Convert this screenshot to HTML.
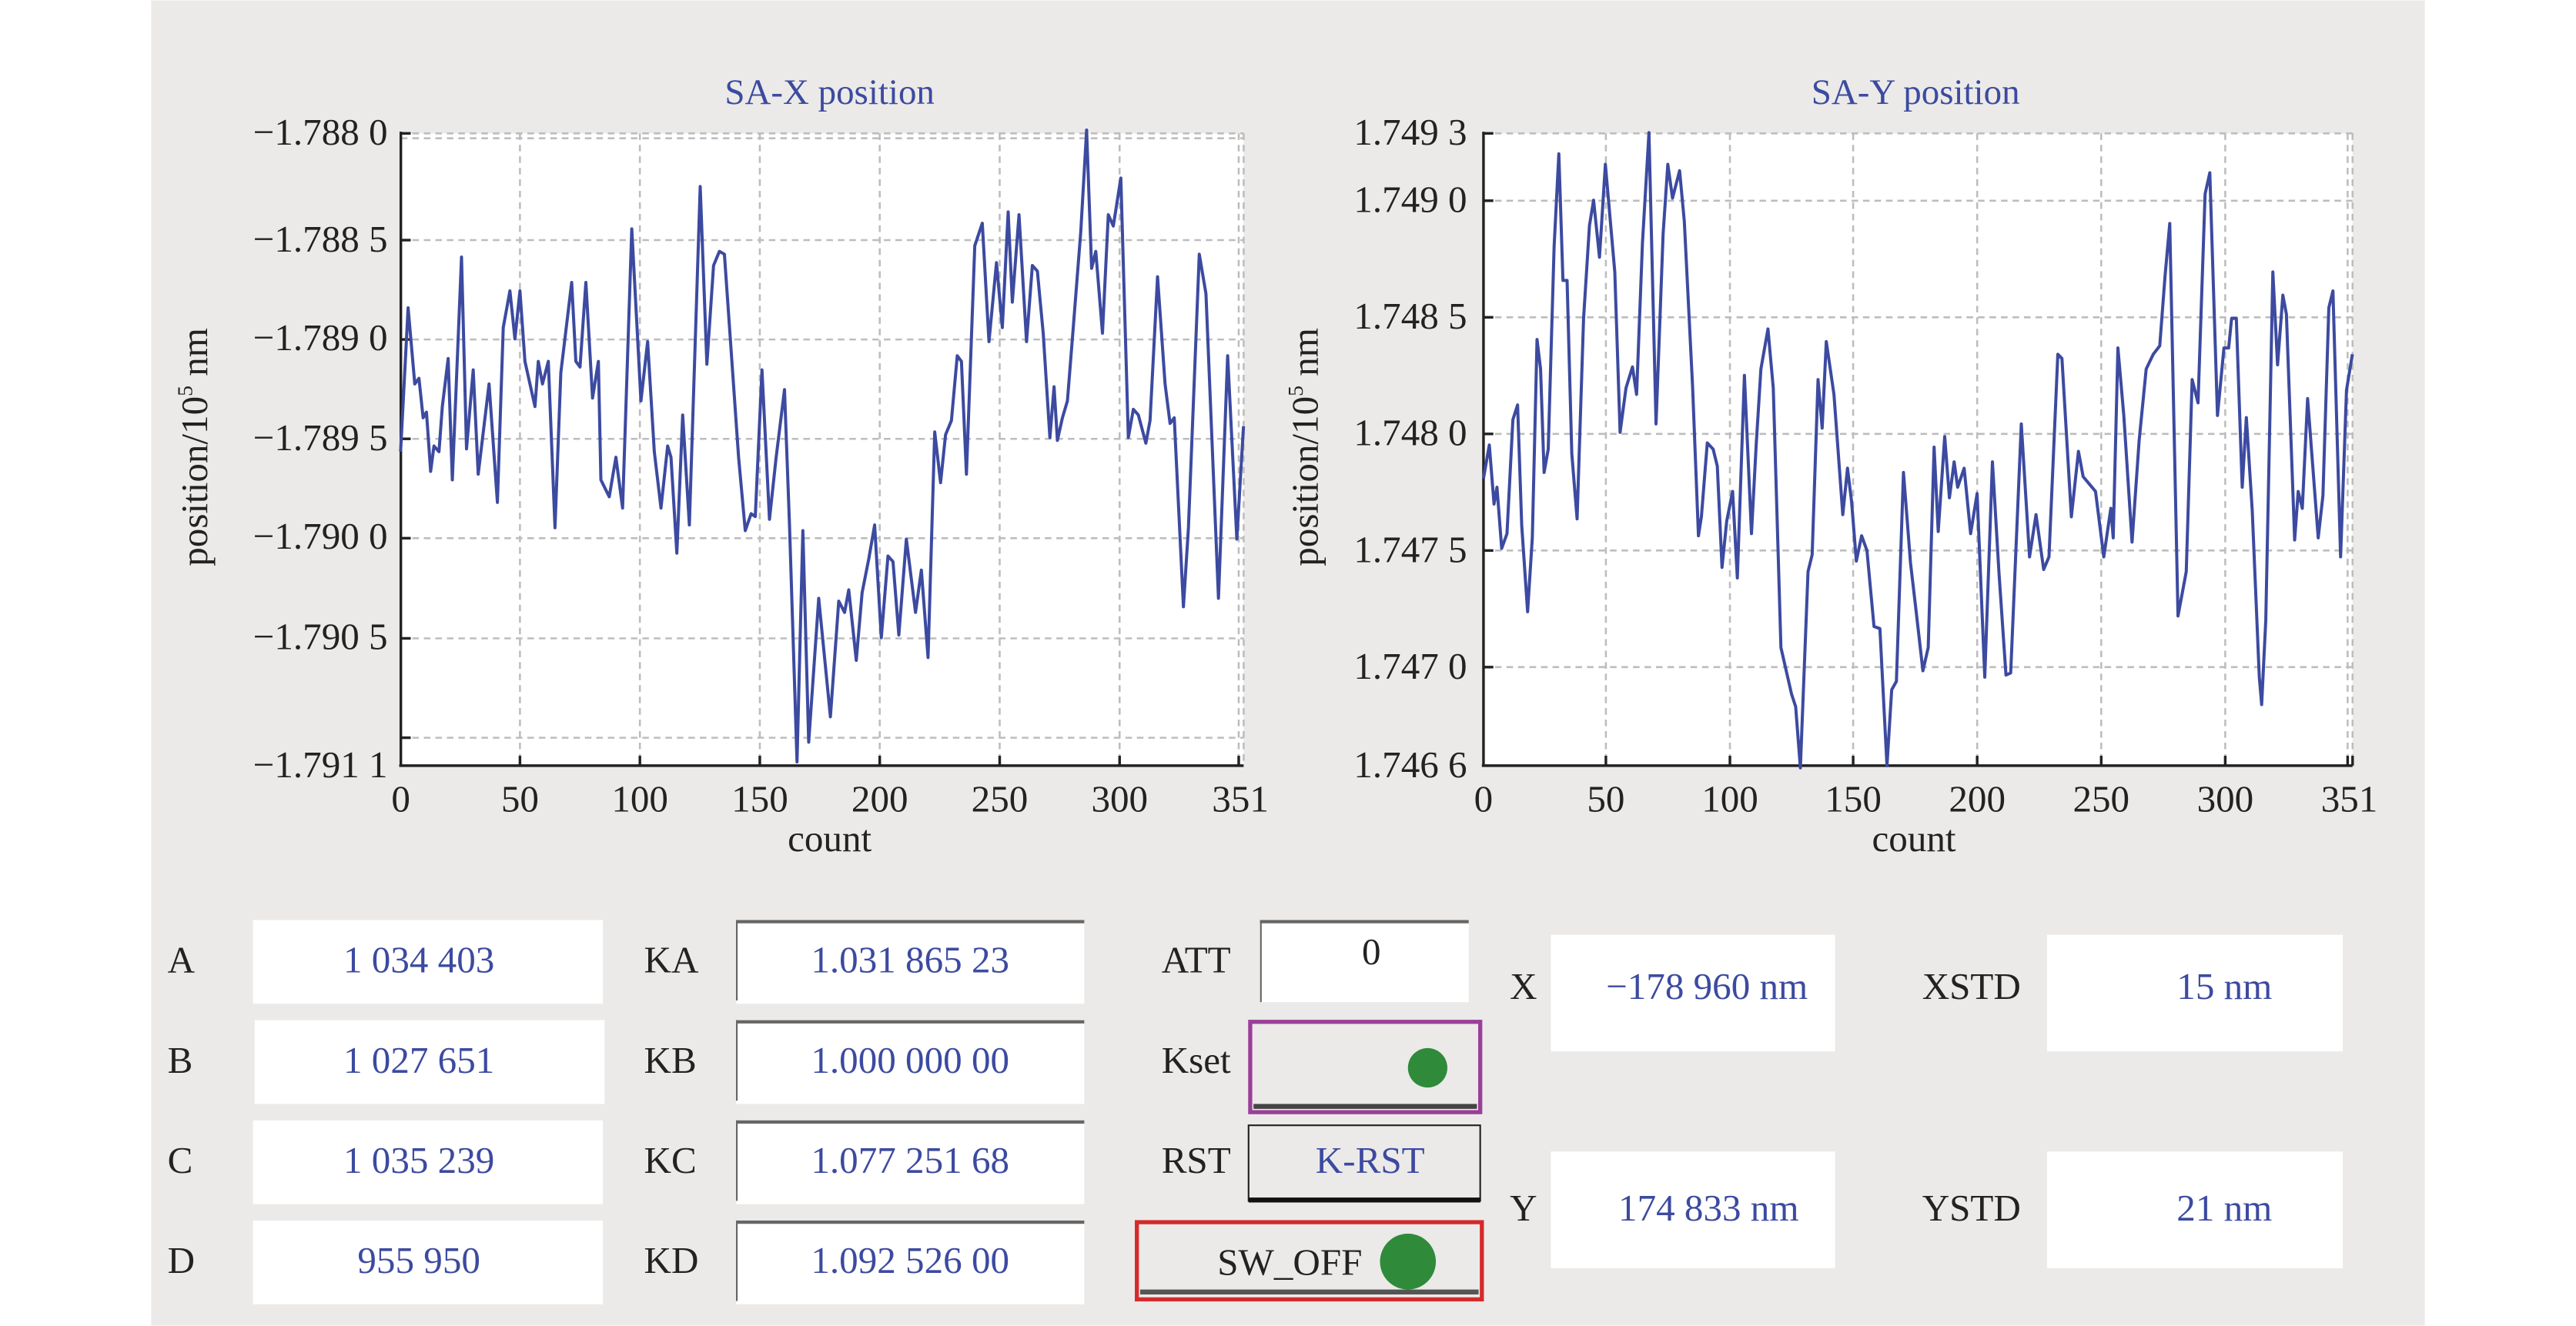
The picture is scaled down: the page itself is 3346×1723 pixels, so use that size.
<!DOCTYPE html>
<html><head><meta charset="utf-8"><style>html,body{margin:0;padding:0;background:#fff}svg{display:block}</style></head><body>
<svg width="3346" height="1723" viewBox="0 0 1568 807" xmlns="http://www.w3.org/2000/svg" font-family="'Liberation Serif',serif">
<rect x="92" y="0" width="1384" height="807" fill="#ebeae8"/>
<!-- left plot -->
<rect x="244" y="81" width="513" height="385" fill="#fff"/>
<g stroke="#bdbdbd" stroke-width="1.2" stroke-dasharray="4,3" fill="none">
<line x1="244" y1="81" x2="757" y2="81"/><line x1="244" y1="84" x2="757" y2="84"/>
<line x1="244" y1="146" x2="757" y2="146"/><line x1="244" y1="206.5" x2="757" y2="206.5"/>
<line x1="244" y1="267" x2="757" y2="267"/><line x1="244" y1="327.5" x2="757" y2="327.5"/>
<line x1="244" y1="388.5" x2="757" y2="388.5"/><line x1="244" y1="449" x2="757" y2="449"/>
<line x1="316.5" y1="81" x2="316.5" y2="466"/><line x1="389.5" y1="81" x2="389.5" y2="466"/>
<line x1="462.5" y1="81" x2="462.5" y2="466"/><line x1="535.5" y1="81" x2="535.5" y2="466"/>
<line x1="608.5" y1="81" x2="608.5" y2="466"/><line x1="681.5" y1="81" x2="681.5" y2="466"/>
<line x1="754" y1="81" x2="754" y2="466"/><line x1="757" y1="81" x2="757" y2="466"/>
</g>
<g stroke="#222" stroke-width="1.6" fill="none">
<line x1="244" y1="80" x2="244" y2="466"/><line x1="243" y1="466" x2="757" y2="466"/>
<line x1="244" y1="81" x2="250" y2="81"/><line x1="244" y1="146" x2="250" y2="146"/><line x1="244" y1="206.5" x2="250" y2="206.5"/><line x1="244" y1="267" x2="250" y2="267"/><line x1="244" y1="327.5" x2="250" y2="327.5"/><line x1="244" y1="388.5" x2="250" y2="388.5"/><line x1="244" y1="449" x2="250" y2="449"/>
<line x1="316.5" y1="466" x2="316.5" y2="460"/><line x1="389.5" y1="466" x2="389.5" y2="460"/><line x1="462.5" y1="466" x2="462.5" y2="460"/><line x1="535.5" y1="466" x2="535.5" y2="460"/><line x1="608.5" y1="466" x2="608.5" y2="460"/><line x1="681.5" y1="466" x2="681.5" y2="460"/><line x1="754" y1="466" x2="754" y2="460"/>
</g>
<g transform="scale(0.508,0.3435)"><polyline fill="none" stroke="#3c4aa0" stroke-width="4" stroke-linejoin="round" vector-effect="non-scaling-stroke" points="480,800 489,545 497,680 502,670 507,740 511,730 516,835 520,790 526,800 530,720 537,635 542,850 553,455 559,795 567,655 573,840 586,680 596,890 603,580 611,515 617,600 623,515 629,640 641,720 645,640 650,680 657,640 665,935 672,660 685,500 690,640 695,650 702,500 710,705 717,640 720,850 730,880 738,810 746,900 757,405 768,710 776,605 784,800 792,900 800,790 804,810 811,980 818,735 826,930 839,330 847,645 855,470 862,445 868,450 885,810 893,940 900,910 905,915 913,655 922,920 930,810 940,690 946,930 955,1350 962,940 969,1315 981,1060 995,1270 1005,1065 1012,1085 1017,1045 1026,1170 1033,1050 1041,990 1048,930 1056,1130 1064,985 1070,995 1077,1125 1086,955 1097,1085 1104,1010 1112,1165 1120,765 1127,855 1133,770 1140,745 1147,630 1152,640 1158,840 1168,435 1177,395 1185,605 1194,465 1201,580 1208,375 1213,535 1221,380 1230,605 1237,470 1243,480 1250,590 1258,775 1263,685 1267,780 1273,740 1279,710 1286,580 1295,410 1302,230 1308,475 1313,445 1321,590 1328,380 1334,400 1343,315 1352,775 1358,725 1364,735 1373,785 1378,745 1387,490 1396,680 1402,750 1407,740 1418,1075 1424,935 1437,450 1445,520 1460,1060 1471,630 1482,955 1490,755"/></g>
<g font-size="23" fill="#222" text-anchor="end">
<text x="236" y="88">−1.788 0</text><text x="236" y="153">−1.788 5</text><text x="236" y="213">−1.789 0</text><text x="236" y="274">−1.789 5</text><text x="236" y="334">−1.790 0</text><text x="236" y="395">−1.790 5</text><text x="236" y="473">−1.791 1</text>
</g>
<g font-size="23" fill="#222" text-anchor="middle">
<text x="244" y="494">0</text><text x="316.5" y="494">50</text><text x="389.5" y="494">100</text><text x="462.5" y="494">150</text><text x="535.5" y="494">200</text><text x="608.5" y="494">250</text><text x="681.5" y="494">300</text><text x="755" y="494">351</text>
<text x="505" y="518">count</text>
<text x="1165" y="518">count</text>
</g>
<text x="505" y="63" font-size="22" fill="#3c4aa0" text-anchor="middle">SA-X position</text>
<text x="1166" y="63" font-size="22" fill="#3c4aa0" text-anchor="middle">SA-Y position</text>
<text transform="translate(126,272) rotate(-90)" font-size="23" fill="#222" text-anchor="middle">position/10<tspan font-size="13" dy="-9">5</tspan><tspan dy="9"> nm</tspan></text>
<text transform="translate(802,272) rotate(-90)" font-size="23" fill="#222" text-anchor="middle">position/10<tspan font-size="13" dy="-9">5</tspan><tspan dy="9"> nm</tspan></text>
<!-- right plot -->
<rect x="903" y="81" width="529" height="385" fill="#fff"/>
<g stroke="#bdbdbd" stroke-width="1.2" stroke-dasharray="4,3" fill="none">
<line x1="903" y1="81" x2="1432" y2="81"/>
<line x1="903" y1="122" x2="1432" y2="122"/><line x1="903" y1="193" x2="1432" y2="193"/><line x1="903" y1="264" x2="1432" y2="264"/><line x1="903" y1="335" x2="1432" y2="335"/><line x1="903" y1="406" x2="1432" y2="406"/>
<line x1="977.5" y1="81" x2="977.5" y2="466"/><line x1="1053" y1="81" x2="1053" y2="466"/><line x1="1128" y1="81" x2="1128" y2="466"/><line x1="1203.5" y1="81" x2="1203.5" y2="466"/><line x1="1279" y1="81" x2="1279" y2="466"/><line x1="1354.5" y1="81" x2="1354.5" y2="466"/><line x1="1429" y1="81" x2="1429" y2="466"/><line x1="1432" y1="81" x2="1432" y2="466"/>
</g>
<g stroke="#222" stroke-width="1.6" fill="none">
<line x1="903" y1="80" x2="903" y2="466"/><line x1="902" y1="466" x2="1432" y2="466"/>
<line x1="903" y1="81" x2="909" y2="81"/><line x1="903" y1="122" x2="909" y2="122"/><line x1="903" y1="193" x2="909" y2="193"/><line x1="903" y1="264" x2="909" y2="264"/><line x1="903" y1="335" x2="909" y2="335"/><line x1="903" y1="406" x2="909" y2="406"/>
<line x1="977.5" y1="466" x2="977.5" y2="460"/><line x1="1053" y1="466" x2="1053" y2="460"/><line x1="1128" y1="466" x2="1128" y2="460"/><line x1="1203.5" y1="466" x2="1203.5" y2="460"/><line x1="1279" y1="466" x2="1279" y2="460"/><line x1="1354.5" y1="466" x2="1354.5" y2="460"/><line x1="1429" y1="466" x2="1429" y2="460"/><line x1="1432" y1="466" x2="1432" y2="460"/>
</g>
<g transform="translate(890.4,70.3) scale(0.3586,0.257)"><polyline fill="none" stroke="#3c4aa0" stroke-width="4" stroke-linejoin="round" vector-effect="non-scaling-stroke" points="35,860 45,780 53,920 58,880 66,1025 75,990 85,720 93,685 100,970 110,1175 118,1000 126,530 132,600 138,845 145,790 155,310 163,90 170,390 177,390 185,800 194,955 205,480 215,260 222,200 232,335 242,115 258,370 267,750 277,645 288,595 295,660 305,300 316,40 328,730 340,280 348,115 356,195 368,130 376,250 390,640 400,995 405,950 415,775 425,790 432,830 440,1070 448,960 458,890 466,1095 478,615 490,990 498,780 506,600 518,505 527,645 540,1260 558,1370 565,1400 573,1545 586,1080 593,1040 603,625 610,740 617,535 630,660 645,945 653,835 660,915 668,1055 677,995 686,1030 698,1210 708,1215 720,1540 728,1360 736,1340 748,845 760,1060 770,1180 781,1315 790,1260 800,785 807,985 818,760 826,905 834,820 840,880 851,835 862,990 873,895 886,1330 899,820 910,1080 922,1325 930,1320 948,730 962,1045 973,945 986,1075 995,1045 1010,565 1017,575 1033,950 1045,795 1053,855 1065,875 1074,890 1088,1045 1100,930 1104,1000 1112,550 1122,710 1136,1010 1148,770 1160,600 1172,565 1183,545 1192,380 1200,255 1214,1185 1228,1080 1238,625 1248,680 1260,185 1268,135 1281,710 1292,550 1300,550 1305,480 1313,480 1323,880 1330,715 1340,935 1352,1330 1356,1395 1363,1195 1375,370 1383,590 1392,425 1398,470 1412,1005 1418,890 1425,930 1434,670 1452,1000 1460,900 1470,455 1477,415 1490,1045 1500,650 1510,565"/></g>
<g font-size="23" fill="#222" text-anchor="end">
<text x="893" y="88">1.749 3</text><text x="893" y="129">1.749 0</text><text x="893" y="200">1.748 5</text><text x="893" y="271">1.748 0</text><text x="893" y="342">1.747 5</text><text x="893" y="413">1.747 0</text><text x="893" y="473">1.746 6</text>
</g>
<g font-size="23" fill="#222" text-anchor="middle">
<text x="903" y="494">0</text><text x="977.5" y="494">50</text><text x="1053" y="494">100</text><text x="1128" y="494">150</text><text x="1203.5" y="494">200</text><text x="1279" y="494">250</text><text x="1354.5" y="494">300</text><text x="1430" y="494">351</text>
</g>
<!-- bottom panel -->
<g fill="#fff">
<rect x="154" y="560" width="213" height="51"/><rect x="155" y="621" width="213" height="51"/><rect x="154" y="682" width="213" height="51"/><rect x="154" y="743" width="213" height="51"/>
<rect x="448" y="560" width="212" height="51"/><rect x="448" y="621" width="212" height="51"/><rect x="448" y="682" width="212" height="51"/><rect x="448" y="743" width="212" height="51"/>
<rect x="767" y="560" width="127" height="50"/>
<rect x="944" y="569" width="173" height="71"/><rect x="1246" y="569" width="180" height="71"/>
<rect x="944" y="701" width="173" height="71"/><rect x="1246" y="701" width="180" height="71"/>
</g>
<g fill="#666">
<rect x="448" y="560" width="212" height="2"/><rect x="448" y="621" width="212" height="2"/><rect x="448" y="682" width="212" height="2"/><rect x="448" y="743" width="212" height="2"/>
<rect x="448" y="560" width="1" height="49"/><rect x="448" y="621" width="1" height="49"/><rect x="448" y="682" width="1" height="49"/><rect x="448" y="743" width="1" height="49"/>
<rect x="767" y="560" width="127" height="2"/><rect x="767" y="560" width="1" height="50"/>
</g>
<rect x="761" y="622" width="140" height="55" fill="#ebeae8" stroke="#9a3f9a" stroke-width="2.5"/>
<rect x="763" y="672" width="136" height="3" fill="#444"/>
<ellipse cx="869" cy="650" rx="12" ry="12" fill="#2f8a3a"/>
<rect x="760" y="685" width="141" height="46" fill="#ebeae8" stroke="#222" stroke-width="1"/>
<rect x="760" y="729" width="141" height="3" fill="#111"/>
<rect x="692" y="744" width="210" height="47" fill="#ebeae8" stroke="#d42a2a" stroke-width="2.5"/>
<rect x="694" y="785" width="206" height="3" fill="#555"/>
<ellipse cx="857" cy="768" rx="17" ry="17" fill="#2f8a3a"/>
<g font-size="23" fill="#222">
<text x="102" y="592">A</text><text x="102" y="653">B</text><text x="102" y="714">C</text><text x="102" y="775">D</text>
<text x="392" y="592">KA</text><text x="392" y="653">KB</text><text x="392" y="714">KC</text><text x="392" y="775">KD</text>
<text x="707" y="592">ATT</text><text x="707" y="653">Kset</text><text x="707" y="714">RST</text>
<text x="829" y="587">0</text>
<text x="741" y="776">SW_OFF</text>
<text x="919" y="608">X</text><text x="919" y="743">Y</text>
<text x="1170" y="608">XSTD</text><text x="1170" y="743">YSTD</text>
</g>
<g font-size="23" fill="#3c4aa0" text-anchor="middle">
<text x="255" y="592">1 034 403</text><text x="255" y="653">1 027 651</text><text x="255" y="714">1 035 239</text><text x="255" y="775">955 950</text>
<text x="554" y="592">1.031 865 23</text><text x="554" y="653">1.000 000 00</text><text x="554" y="714">1.077 251 68</text><text x="554" y="775">1.092 526 00</text>
<text x="834" y="714">K-RST</text>
<text x="1039" y="608">−178 960 nm</text><text x="1040" y="743">174 833 nm</text>
<text x="1354" y="608">15 nm</text><text x="1354" y="743">21 nm</text>
</g>
</svg>
</body></html>
